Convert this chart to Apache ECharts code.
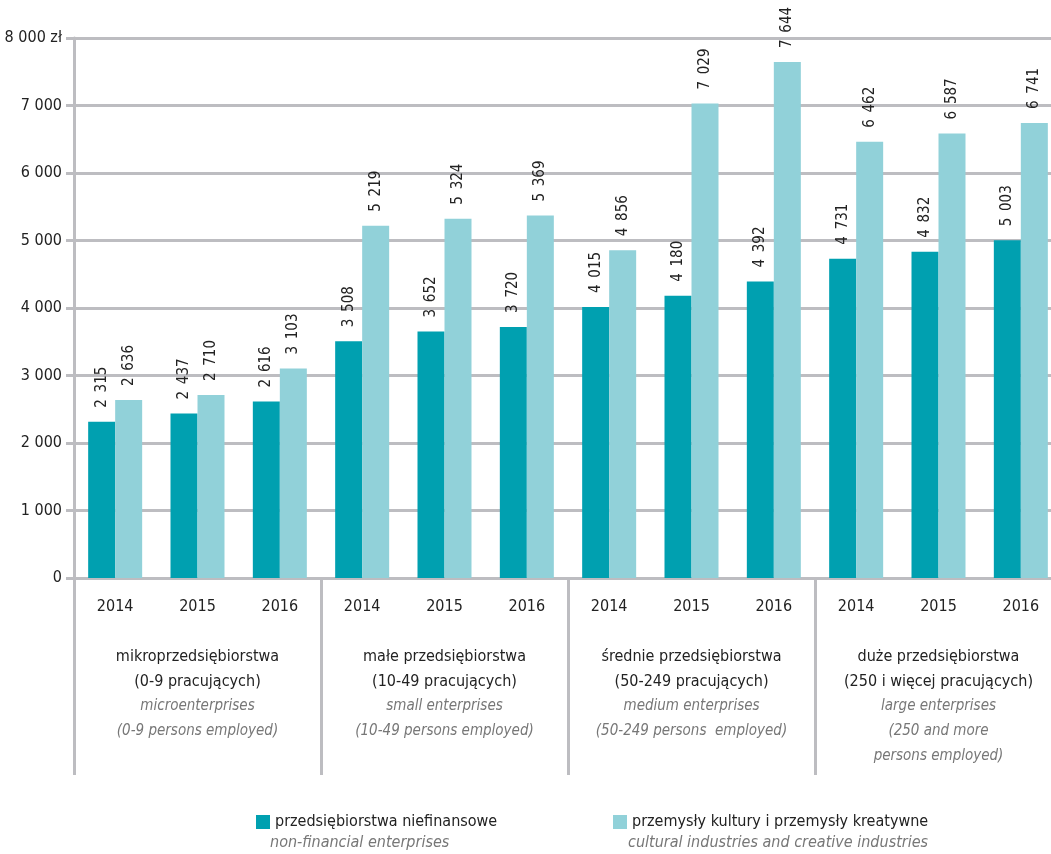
<!DOCTYPE html>
<html>
<head>
<meta charset="utf-8">
<script src="https://cdn.jsdelivr.net/npm/echarts@6/dist/echarts.min.js"></script>
<style>
html, body { margin: 0; padding: 0; background: #fff; }
#chart { width: 1051px; height: 854px; }
</style>
</head>
<body>
<div id="chart"></div>
<script>
// wartości
var years = ['2014', '2015', '2016', '2014', '2015', '2016', '2014', '2015', '2016', '2014', '2015', '2016'];
var groups = [
  ['mikroprzedsiębiorstwa', '(0-9 pracujących)', 'microenterprises', '(0-9 persons employed)'],
  ['małe przedsiębiorstwa', '(10-49 pracujących)', 'small enterprises', '(10-49 persons employed)'],
  ['średnie przedsiębiorstwa', '(50-249 pracujących)', 'medium enterprises', '(50-249 persons  employed)'],
  ['duże przedsiębiorstwa', '(250 i więcej pracujących)', 'large enterprises', '(250 and more', 'persons employed)']
];
var nonFinancial = [2315, 2437, 2616, 3508, 3652, 3720, 4015, 4180, 4392, 4731, 4832, 5003];
var creative = [2636, 2710, 3103, 5219, 5324, 5369, 4856, 7029, 7644, 6462, 6587, 6741];
var seriesNames = ['przedsiębiorstwa niefinansowe', 'przemysły kultury i przemysły kreatywne'];
var seriesNamesEn = ['non-financial enterprises', 'cultural industries and creative industries'];

var FONT = '"DejaVu Sans Condensed", "Liberation Sans Narrow", sans-serif';
var GREY = '#bdbdc1';

function fmt(v) {
  var s = String(v);
  return s.length > 3 ? s.slice(0, s.length - 3) + '\u2002' + s.slice(-3) : s;
}

var groupLabels = groups.map(function (g) {
  return g.map(function (line, i) {
    return (i < 2 ? '{a|' : '{b|') + line + '}';
  }).join('\n');
});

var barLabel = {
  show: true,
  position: 'top',
  rotate: 90,
  align: 'left',
  verticalAlign: 'middle',
  distance: 14,
  fontFamily: FONT,
  fontSize: 15,
  color: '#222',
  formatter: function (p) { return fmt(p.value); }
};

var chart = echarts.init(document.getElementById('chart'));
chart.setOption({
  animation: false,
  textStyle: { fontFamily: FONT },
  grid: { left: 74, width: 988, top: 38, bottom: 276, outerBoundsMode: 'none', containLabel: false },
  legend: [
    {
      data: [seriesNames[0]], left: 251, top: 809, itemWidth: 14, itemHeight: 14,
      icon: 'rect', textStyle: { fontFamily: FONT, fontSize: 16, color: '#222' }
    },
    {
      data: [seriesNames[1]], left: 608, top: 809, itemWidth: 14, itemHeight: 14,
      icon: 'rect', textStyle: { fontFamily: FONT, fontSize: 16, color: '#222' }
    }
  ],
  graphic: [
    { type: 'text', left: 270, top: 835, style: { text: seriesNamesEn[0], font: 'italic 16px ' + FONT, fill: '#777' } },
    { type: 'text', left: 628, top: 835, style: { text: seriesNamesEn[1], font: 'italic 16px ' + FONT, fill: '#777' } }
  ],
  xAxis: [
    {
      type: 'category',
      data: years,
      axisLine: { show: false },
      axisTick: { show: false },
      axisLabel: { margin: 21, fontSize: 16, color: '#222', fontFamily: FONT }
    },
    {
      type: 'category',
      position: 'bottom',
      data: groupLabels,
      axisLine: { show: false },
      axisTick: { show: true, length: 197, lineStyle: { color: GREY, width: 3 } },
      axisLabel: {
        margin: 66,
        interval: 0,
        rich: {
          a: { fontFamily: FONT, fontSize: 16, color: '#222', lineHeight: 25 },
          b: { fontFamily: FONT, fontSize: 15, color: '#777', fontStyle: 'italic', lineHeight: 25 }
        }
      }
    }
  ],
  yAxis: {
    type: 'value',
    min: 0,
    max: 8000,
    interval: 1000,
    axisLine: { show: true, lineStyle: { color: GREY, width: 3 } },
    axisTick: { show: true, length: 8, lineStyle: { color: GREY, width: 3 } },
    splitLine: { show: true, lineStyle: { color: GREY, width: 3 } },
    axisLabel: {
      margin: 12,
      fontSize: 16,
      color: '#222',
      fontFamily: FONT,
      formatter: function (v) {
        var s = v >= 1000 ? Math.floor(v / 1000) + ' 000' : String(v);
        return v === 8000 ? s + ' zł' : s;
      }
    }
  },
  series: [
    {
      name: seriesNames[0],
      type: 'bar',
      xAxisIndex: 0,
      data: nonFinancial,
      barWidth: 27,
      barGap: '0%',
      itemStyle: { color: '#00a0b0' },
      label: barLabel
    },
    {
      name: seriesNames[1],
      type: 'bar',
      xAxisIndex: 0,
      data: creative,
      barWidth: 27,
      barGap: '0%',
      itemStyle: { color: '#91d1d9' },
      label: barLabel
    }
  ]
});
</script>
</body>
</html>
